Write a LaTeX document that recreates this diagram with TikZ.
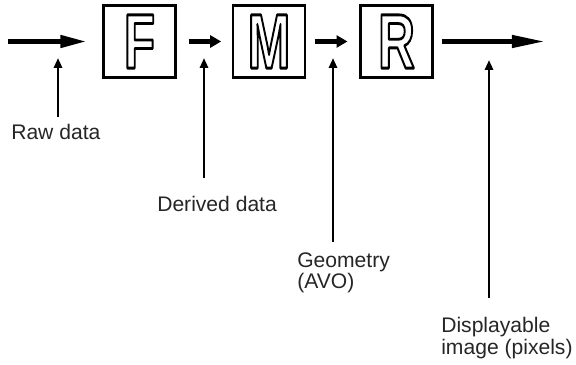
\documentclass[tikz,border=0pt]{standalone}
\usepackage{fontspec}
\setmainfont{Liberation Sans}
\usetikzlibrary{arrows.meta}

% hollow letter: stroked outline only (pdf text render mode 1)
\newcommand{\stageletter}[1]{\scalebox{0.66}[1]{\fontsize{55}{55}\selectfont\bfseries\special{pdf:literal direct 1 Tr 2 w 1 j 0 G}#1\special{pdf:literal direct 0 Tr 0 j}}}

\tikzset{
  stagebox/.style={draw, line width=2pt, minimum width=1.8cm, minimum height=1.8cm, inner sep=0pt},
  flow/.style={line width=3.2pt},
  note/.style={line width=2.1pt, -{Triangle[length=7pt,width=5.7pt]}},
  notetext/.style={inner sep=0pt, font=\fontsize{15}{12.8}\selectfont, align=left, text=black!85}
}

\begin{document}
\begin{tikzpicture}[x=0.025cm, y=-0.025cm]
	\useasboundingbox (0,0) rectangle (576,365);

	% the three stages
	\node[stagebox] (F) at (139.5,41.5) {\stageletter{F}};
	\node[stagebox] (M) at (269,41.5) {\stageletter{M}};
	\node[stagebox] (R) at (396.5,41.5) {\stageletter{R}};

	\coordinate (in) at (8,41.5);
	\coordinate (out) at (545,41.5);

	\draw [flow, -{Triangle[length=18.5pt,width=8.5pt]}, shorten >=0.39cm] (in) -- (F);
	\draw [flow, -{Triangle[length=7.8pt,width=8.5pt]}, shorten <=0.29cm, shorten >=0.26cm] (F) -- (M);
	\draw [flow, -{Triangle[length=7.8pt,width=8.5pt]}, shorten <=0.21cm, shorten >=0.29cm] (M) -- (R);
	\draw [flow, -{Triangle[length=23.5pt,width=8.5pt]}, shorten <=0.19cm] (R) -- (out);

	% what flows between the stages
	\coordinate (rawtip) at (58,58);
	\coordinate (rawfoot) at (58,117);
	\coordinate (derivedtip) at (204,58);
	\coordinate (derivedfoot) at (204,178);
	\coordinate (geotip) at (333,58);
	\coordinate (geofoot) at (333,242);
	\coordinate (pixtip) at (489,60);
	\coordinate (pixfoot) at (489,298);

	\draw [note] (rawfoot) -- (rawtip);
	\draw [note] (derivedfoot) -- (derivedtip);
	\draw [note] (geofoot) -- (geotip);
	\draw [note] (pixfoot) -- (pixtip);

	\node[notetext, anchor=base west] (raw) at (11,140) {Raw data};
	\node[notetext, anchor=base west] (derived) at (157,212) {Derived data};
	\node[notetext, anchor=base west] (geo) at (297,289) {Geometry\\(AVO)};
	\node[notetext, anchor=base west] (pix) at (441,354) {Displayable\\image (pixels)};
\end{tikzpicture}
\end{document}
